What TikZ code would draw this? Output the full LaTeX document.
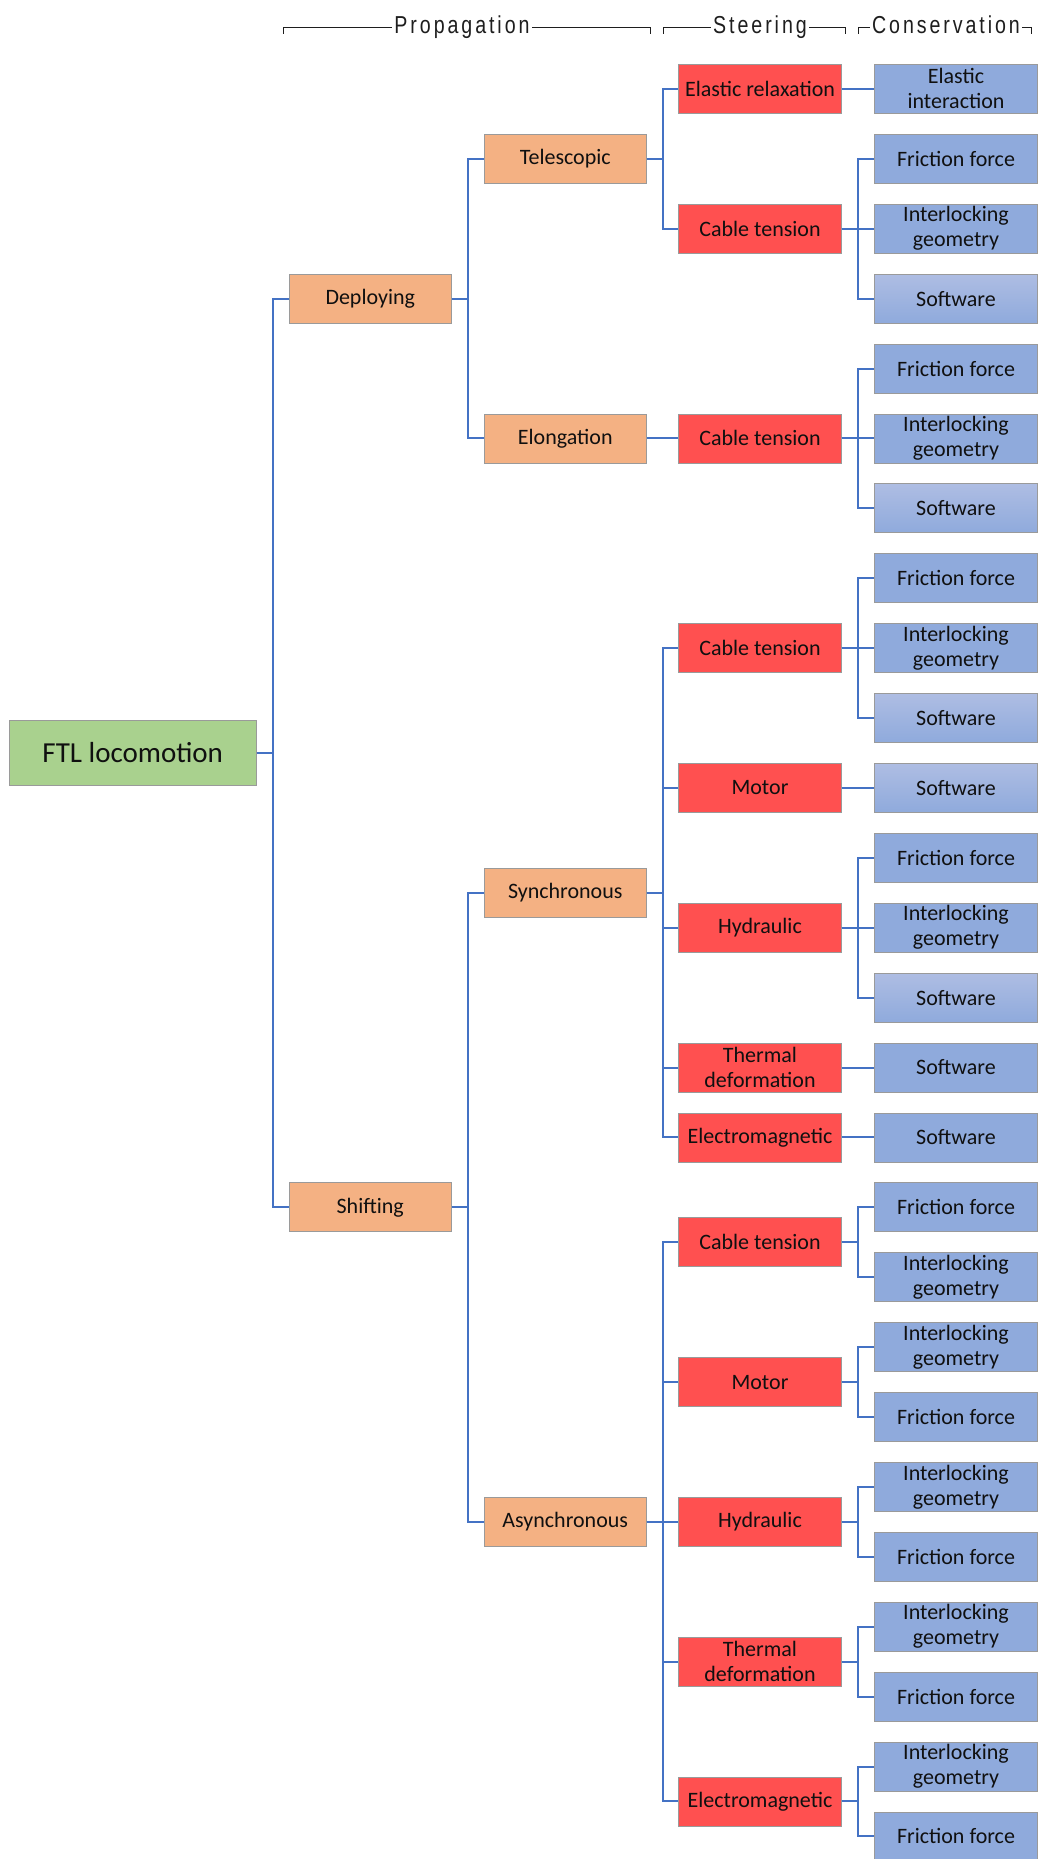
\documentclass[tikz,border=0pt]{standalone}
\usepackage{fontspec}
\setmainfont{Carlito}
\newfontfamily\hdrfont[FakeStretch=0.8,LetterSpace=12]{Liberation Sans}
\definecolor{cGreen}{HTML}{A9D18E}
\definecolor{cOrange}{HTML}{F4B183}
\definecolor{cRed}{HTML}{FF5050}
\definecolor{cBlue}{HTML}{8FAADC}
\definecolor{cBlueTop}{HTML}{AEBDE3}
\definecolor{cLine}{HTML}{4472C4}
\definecolor{cBorder}{HTML}{9A9A9A}
\definecolor{cText}{HTML}{101010}
\definecolor{cHdr}{HTML}{1E1E1E}
\newcommand\rowy[1]{88.9+69.9*(#1-1)}
\begin{document}
\begin{tikzpicture}[x=1pt,y=-1pt,
  box/.style={draw=cBorder, line width=0.8pt, minimum width=162.5pt, minimum height=49pt,
    inner sep=1pt, align=center, text=cText, font=\fontsize{22}{25}\selectfont},
  rootbox/.style={box, fill=cGreen, minimum width=247pt, minimum height=65pt, font=\fontsize{29}{32}\selectfont},
  orbox/.style={box, fill=cOrange},
  redbox/.style={box, fill=cRed},
  bluebox/.style={box, fill=cBlue},
  gradbox/.style={box, top color=cBlueTop, bottom color=cBlue},
  conn/.style={draw=cLine, line width=2pt},
  hdrtxt/.style={inner sep=2pt, text=cHdr, font=\hdrfont\fontsize{24.5}{27}\selectfont},
  hdrline/.style={draw=cHdr, line width=1pt}
]
\useasboundingbox (0,0) rectangle (1050,1859);
\fill[white] (0,0) rectangle (1050,1859);

% headers
\node[hdrtxt, anchor=base] (hP) at (462,33.5) {Propagation};
\node[hdrtxt, anchor=base] (hS) at (760,33.5) {Steering};
\node[hdrtxt, anchor=base] (hC) at (946,33.5) {Conservation};
\coordinate (hPl) at (283,34); \coordinate (hPr) at (650,34);
\coordinate (hSl) at (663,34); \coordinate (hSr) at (845,34);
\coordinate (hCl) at (858,34); \coordinate (hCr) at (1031,34);
\draw[hdrline] (hPl) |- (hP.west |- 0,27.5);
\draw[hdrline] (hPr) |- (hP.east |- 0,27.5);
\draw[hdrline] (hSl) |- (hS.west |- 0,27.5);
\draw[hdrline] (hSr) |- (hS.east |- 0,27.5);
\draw[hdrline] (hCl) |- (hC.west |- 0,27.5);
\draw[hdrline] (hCr) |- (hC.east |- 0,27.5);

% root
\node[rootbox] (root) at (132.75,{\rowy{10.5}}) {FTL locomotion};
% level 1
\node[orbox] (d1) at (370.25,{\rowy{4}}) {Deploying};
\node[orbox] (d2) at (370.25,{\rowy{17}}) {Shifting};
% level 2
\node[orbox] (o1) at (565.25,{\rowy{2}}) {Telescopic};
\node[orbox] (o2) at (565.25,{\rowy{6}}) {Elongation};
\node[orbox] (o3) at (565.25,{\rowy{12.5}}) {Synchronous};
\node[orbox] (o4) at (565.25,{\rowy{21.5}}) {Asynchronous};
% steering
\node[redbox] (r1) at (760,{\rowy{1}}) {Elastic relaxation};
\node[redbox] (r2) at (760,{\rowy{3}}) {Cable tension};
\node[redbox] (r3) at (760,{\rowy{6}}) {Cable tension};
\node[redbox] (r4) at (760,{\rowy{9}}) {Cable tension};
\node[redbox] (r5) at (760,{\rowy{11}}) {Motor};
\node[redbox] (r6) at (760,{\rowy{13}}) {Hydraulic};
\node[redbox] (r7) at (760,{\rowy{15}}) {Thermal\\deformation};
\node[redbox] (r8) at (760,{\rowy{16}}) {Electromagnetic};
\node[redbox] (r9) at (760,{\rowy{17.5}}) {Cable tension};
\node[redbox] (r10) at (760,{\rowy{19.5}}) {Motor};
\node[redbox] (r11) at (760,{\rowy{21.5}}) {Hydraulic};
\node[redbox] (r12) at (760,{\rowy{23.5}}) {Thermal\\deformation};
\node[redbox] (r13) at (760,{\rowy{25.5}}) {Electromagnetic};
% conservation
\node[bluebox] (b1) at (956,{\rowy{1}}) {Elastic\\interaction};
\node[bluebox] (b2) at (956,{\rowy{2}}) {Friction force};
\node[bluebox] (b3) at (956,{\rowy{3}}) {Interlocking\\geometry};
\node[gradbox] (b4) at (956,{\rowy{4}}) {Software};
\node[bluebox] (b5) at (956,{\rowy{5}}) {Friction force};
\node[bluebox] (b6) at (956,{\rowy{6}}) {Interlocking\\geometry};
\node[gradbox] (b7) at (956,{\rowy{7}}) {Software};
\node[bluebox] (b8) at (956,{\rowy{8}}) {Friction force};
\node[bluebox] (b9) at (956,{\rowy{9}}) {Interlocking\\geometry};
\node[gradbox] (b10) at (956,{\rowy{10}}) {Software};
\node[gradbox] (b11) at (956,{\rowy{11}}) {Software};
\node[bluebox] (b12) at (956,{\rowy{12}}) {Friction force};
\node[bluebox] (b13) at (956,{\rowy{13}}) {Interlocking\\geometry};
\node[gradbox] (b14) at (956,{\rowy{14}}) {Software};
\node[bluebox] (b15) at (956,{\rowy{15}}) {Software};
\node[bluebox] (b16) at (956,{\rowy{16}}) {Software};
\node[bluebox] (b17) at (956,{\rowy{17}}) {Friction force};
\node[bluebox] (b18) at (956,{\rowy{18}}) {Interlocking\\geometry};
\node[bluebox] (b19) at (956,{\rowy{19}}) {Interlocking\\geometry};
\node[bluebox] (b20) at (956,{\rowy{20}}) {Friction force};
\node[bluebox] (b21) at (956,{\rowy{21}}) {Interlocking\\geometry};
\node[bluebox] (b22) at (956,{\rowy{22}}) {Friction force};
\node[bluebox] (b23) at (956,{\rowy{23}}) {Interlocking\\geometry};
\node[bluebox] (b24) at (956,{\rowy{24}}) {Friction force};
\node[bluebox] (b25) at (956,{\rowy{25}}) {Interlocking\\geometry};
\node[bluebox] (b26) at (956,{\rowy{26}}) {Friction force};

% connectors
\foreach \p/\c in {root/d1, root/d2, d1/o1, d1/o2, d2/o3, d2/o4,
  o1/r1, o1/r2, o2/r3, o3/r4, o3/r5, o3/r6, o3/r7, o3/r8,
  o4/r9, o4/r10, o4/r11, o4/r12, o4/r13,
  r1/b1, r2/b2, r2/b3, r2/b4, r3/b5, r3/b6, r3/b7, r4/b8, r4/b9, r4/b10,
  r5/b11, r6/b12, r6/b13, r6/b14, r7/b15, r8/b16, r9/b17, r9/b18,
  r10/b19, r10/b20, r11/b21, r11/b22, r12/b23, r12/b24, r13/b25, r13/b26}
  \draw[conn] (\p.east) -- ++(16.5,0) |- (\c.west);
\end{tikzpicture}
\end{document}
